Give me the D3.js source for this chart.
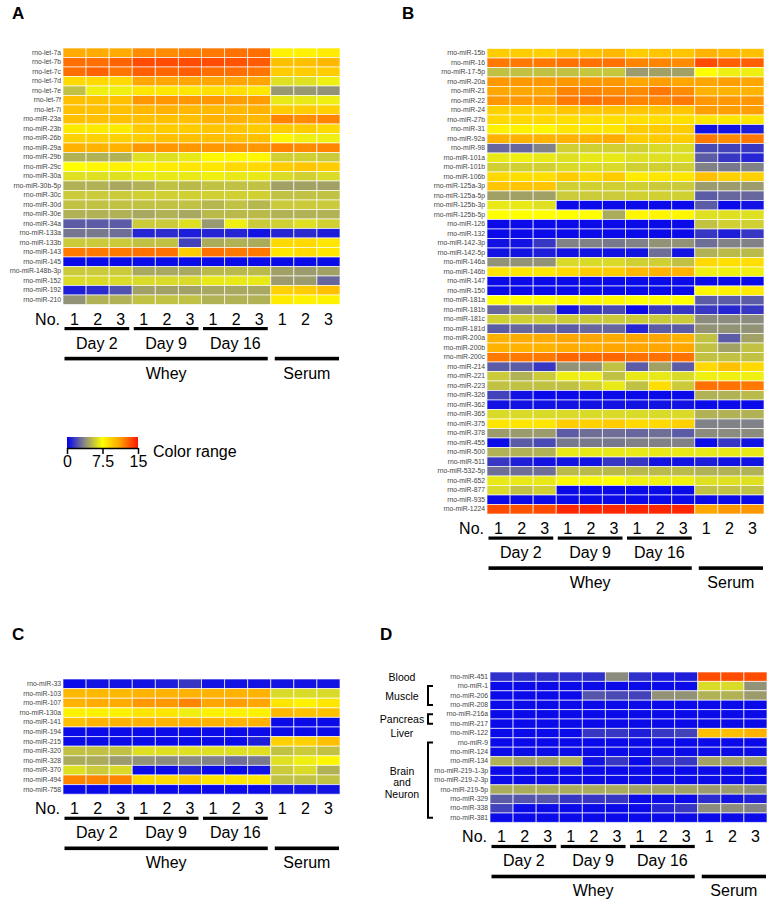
<!DOCTYPE html>
<html><head><meta charset="utf-8">
<script src="https://cdn.jsdelivr.net/npm/d3@7"></script>
<style>body{margin:0;background:#fff;} svg{display:block;font-family:Arial,"Liberation Sans",sans-serif;}</style>
</head><body><svg id="c" width="772" height="905"></svg>
<script>
// ---------- shared data ----------
const columns = ["W-D2-1","W-D2-2","W-D2-3","W-D9-1","W-D9-2","W-D9-3","W-D16-1","W-D16-2","W-D16-3","S-1","S-2","S-3"];
const sampleNumbers = ["1","2","3","1","2","3","1","2","3","1","2","3"];
const dayGroups = [{label:"Day 2", cols:[0,2]}, {label:"Day 9", cols:[3,5]}, {label:"Day 16", cols:[6,8]}];
const sourceGroups = [{label:"Whey", cols:[0,8]}, {label:"Serum", cols:[9,11]}];
const colorStops = [0, 3.75, 7.5, 11.25, 15];
const colorRange = ["#0000f2", "#8a8a80", "#ffff00", "#ffa000", "#ff1400"];
const legendTicks = [0, 7.5, 15];
const legendTickLabels = ["0", "7.5", "15"];

// ---------- panel A ----------
const rowsA = ["rno-let-7a","rno-let-7b","rno-let-7c","rno-let-7d","rno-let-7e","rno-let-7f","rno-let-7i","rno-miR-23a","rno-miR-23b","rno-miR-26b","rno-miR-29a","rno-miR-29b","rno-miR-29c","rno-miR-30a","rno-miR-30b-5p","rno-miR-30c","rno-miR-30d","rno-miR-30e","rno-miR-34a","rno-miR-133a","rno-miR-133b","rno-miR-143","rno-miR-145","rno-miR-148b-3p","rno-miR-152","rno-miR-192","rno-miR-210"];
const valuesA = [
 [10.8,10.8,10.8, 11.8,11.8,12.2, 12.3,12.5,12.6, 8.0,8.0,8.3],
 [12.6,12.6,12.9, 13.5,13.5,13.5, 13.5,13.3,13.1, 10.0,10.0,10.3],
 [12.6,12.9,12.4, 13.0,12.8,13.0, 12.6,12.6,12.4, 9.5,9.5,9.5],
 [9.0,9.0,9.0, 11.0,11.0,11.0, 11.0,11.0,11.0, 6.5,6.5,7.0],
 [5.5,7.0,7.0, 8.5,8.5,8.5, 8.8,8.8,8.5, 4.2,4.2,4.0],
 [10.0,10.0,10.0, 11.5,11.5,11.5, 11.5,11.3,11.3, 6.8,6.8,7.0],
 [10.0,10.0,10.0, 10.3,10.5,10.3, 10.3,10.3,10.5, 9.5,9.5,9.3],
 [10.0,10.0,10.0, 10.0,10.0,10.0, 10.5,10.5,10.3, 12.0,11.8,12.0],
 [8.3,8.3,8.3, 9.5,9.5,9.5, 9.8,9.8,9.5, 9.5,9.5,9.0],
 [9.3,9.3,9.3, 9.5,10.0,10.0, 10.0,10.0,10.0, 7.8,7.0,7.0],
 [10.5,10.5,10.5, 11.5,11.5,11.5, 11.5,11.5,11.5, 12.0,11.8,12.0],
 [5.0,5.0,5.0, 6.5,6.5,6.8, 7.8,7.8,7.8, 6.0,6.0,5.8],
 [7.5,7.8,8.0, 8.0,8.3,8.5, 8.5,9.0,9.0, 9.5,9.8,9.5],
 [6.5,6.5,6.5, 6.8,6.8,6.8, 7.0,6.8,6.8, 6.3,6.0,6.3],
 [5.0,5.0,4.7, 5.0,5.5,5.3, 5.5,5.5,5.5, 4.5,4.5,4.5],
 [5.8,5.8,5.8, 6.0,6.0,6.0, 6.0,6.0,6.0, 5.5,5.5,5.5],
 [5.5,5.5,5.5, 5.5,5.5,5.5, 5.2,5.5,5.2, 5.8,5.8,5.8],
 [5.0,5.0,5.0, 4.7,5.0,4.7, 5.3,5.3,5.3, 5.0,5.0,5.0],
 [2.5,2.5,2.5, 5.8,5.8,6.5, 4.2,7.0,5.8, 6.0,6.5,6.0],
 [3.2,3.3,3.0, 1.0,1.2,0.8, 1.0,1.0,0.5, 1.0,1.2,0.8],
 [5.8,5.8,5.8, 5.5,5.5,1.8, 4.8,5.0,4.8, 9.0,9.0,8.5],
 [12.3,12.3,12.3, 12.5,12.5,9.5, 12.5,12.3,12.3, 8.5,9.0,8.5],
 [0.3,0.3,0.3, 0.3,0.3,0.3, 0.3,0.3,0.3, 0.3,0.3,0.3],
 [5.8,5.8,5.8, 4.7,4.7,4.7, 5.3,5.3,5.3, 4.5,4.3,4.5],
 [6.3,6.3,6.3, 6.3,6.3,6.3, 6.8,6.8,6.8, 4.3,4.3,2.8],
 [0.8,1.2,2.2, 4.5,4.5,4.5, 4.7,4.7,4.7, 9.3,9.5,10.0],
 [4.0,5.0,5.0, 5.5,5.5,5.5, 5.0,5.0,5.0, 8.3,8.0,8.0]
];

// ---------- panel B ----------
const rowsB = ["rno-miR-15b","rno-miR-16","rno-miR-17-5p","rno-miR-20a","rno-miR-21","rno-miR-22","rno-miR-24","rno-miR-27b","rno-miR-31","rno-miR-92a","rno-miR-98","rno-miR-101a","rno-miR-101b","rno-miR-106b","rno-miR-125a-3p","rno-miR-125a-5p","rno-miR-125b-3p","rno-miR-125b-5p","rno-miR-126","rno-miR-132","rno-miR-142-3p","rno-miR-142-5p","rno-miR-146a","rno-miR-146b","rno-miR-147","rno-miR-150","rno-miR-181a","rno-miR-181b","rno-miR-181c","rno-miR-181d","rno-miR-200a","rno-miR-200b","rno-miR-200c","rno-miR-214","rno-miR-221","rno-miR-223","rno-miR-326","rno-miR-362","rno-miR-365","rno-miR-375","rno-miR-378","rno-miR-455","rno-miR-500","rno-miR-511","rno-miR-532-5p","rno-miR-652","rno-miR-877","rno-miR-935","rno-miR-1224"];
const valuesB = [
 [9.5,9.5,9.3, 10.0,10.0,10.3, 9.5,9.8,9.8, 10.5,10.3,10.0],
 [12.3,12.3,12.3, 12.5,12.5,12.5, 12.0,12.0,11.8, 13.5,13.0,13.0],
 [5.5,5.5,5.5, 5.5,5.7,5.7, 4.3,4.5,4.5, 7.5,7.0,7.0],
 [11.5,11.5,11.5, 11.5,11.5,11.5, 11.0,11.3,11.0, 11.0,11.3,11.0],
 [11.0,11.0,11.0, 12.0,12.0,11.8, 11.8,12.3,11.8, 10.5,10.5,10.5],
 [11.5,11.5,11.5, 12.3,12.5,12.3, 12.0,12.0,12.3, 11.5,11.5,11.5],
 [9.3,9.3,9.3, 9.8,9.8,9.8, 9.8,9.8,9.8, 11.3,11.3,11.3],
 [9.0,9.0,9.0, 8.8,8.8,8.8, 8.8,8.8,8.8, 8.5,8.5,8.5],
 [8.0,8.0,7.8, 8.5,8.5,8.5, 9.5,9.5,9.5, 0.5,0.5,0.8],
 [10.5,10.5,10.5, 10.5,10.5,10.8, 9.5,9.5,9.5, 12.3,11.8,12.3],
 [2.8,2.8,3.5, 6.0,6.0,6.0, 6.0,6.3,6.3, 2.0,1.8,1.5],
 [6.8,7.0,6.8, 6.5,6.8,6.8, 6.5,6.5,6.5, 2.5,1.5,1.0],
 [6.0,6.0,6.0, 6.3,6.3,6.3, 6.0,6.0,6.0, 3.5,3.3,3.5],
 [9.0,8.8,8.8, 9.5,9.0,9.5, 8.3,8.5,8.5, 10.0,9.3,9.3],
 [9.8,9.8,9.8, 6.0,6.0,6.0, 6.0,5.8,5.8, 4.3,4.3,4.3],
 [4.5,4.5,4.5, 5.8,5.8,5.8, 6.0,6.0,6.0, 2.5,2.8,2.8],
 [6.8,6.8,6.5, 0.3,0.3,0.3, 0.3,0.3,0.3, 2.5,0.3,0.5],
 [7.5,7.5,7.5, 7.5,7.5,4.8, 7.8,7.8,7.8, 6.5,6.5,6.5],
 [0.3,0.3,0.3, 0.3,0.3,0.3, 0.3,0.3,0.3, 5.5,6.0,6.0],
 [0.3,0.3,0.3, 0.3,0.3,0.3, 0.3,0.3,0.3, 1.5,0.8,1.5],
 [0.5,0.5,1.5, 3.5,3.5,3.3, 3.5,4.0,4.0, 3.0,3.5,3.5],
 [0.5,0.5,0.8, 0.5,0.5,0.5, 0.5,3.0,0.5, 5.0,5.3,5.3],
 [4.0,4.0,4.0, 6.3,6.3,6.3, 6.0,6.0,5.5, 9.0,8.8,8.8],
 [8.5,8.5,8.5, 9.0,9.5,9.5, 10.3,10.5,10.5, 7.0,7.0,7.0],
 [0.3,0.3,0.3, 0.3,0.3,0.3, 0.3,0.3,0.3, 0.3,0.3,0.3],
 [0.3,0.3,0.3, 0.3,0.3,0.3, 0.3,0.3,0.3, 7.8,8.0,8.3],
 [7.5,7.5,7.5, 7.8,7.8,7.8, 7.5,7.5,7.5, 2.5,2.5,2.5],
 [2.8,3.5,3.5, 0.5,1.5,2.0, 0.3,1.5,1.5, 1.5,1.0,1.5],
 [6.0,6.0,6.0, 5.8,5.8,5.8, 5.8,5.8,5.8, 3.8,3.8,3.8],
 [2.5,2.8,2.8, 2.5,2.8,2.8, 1.0,2.5,2.5, 4.0,4.0,4.0],
 [10.5,10.8,10.8, 11.0,11.0,10.8, 11.0,11.0,10.5, 5.5,2.5,4.5],
 [10.5,10.5,10.5, 10.8,10.8,11.0, 11.0,11.0,11.0, 5.5,4.5,5.5],
 [12.3,12.3,12.3, 12.8,12.8,12.8, 12.5,12.5,12.5, 5.5,5.5,5.5],
 [2.5,2.5,1.5, 4.0,4.0,5.5, 2.5,4.5,2.5, 9.0,10.0,9.0],
 [5.8,5.0,5.8, 7.0,7.0,5.5, 6.8,6.8,6.3, 7.0,7.0,7.0],
 [5.5,5.5,5.5, 5.5,6.0,6.8, 5.5,8.8,5.8, 12.5,12.5,12.3],
 [1.8,0.5,0.3, 0.3,0.3,0.3, 0.3,0.3,0.3, 5.0,5.0,5.3],
 [0.5,0.5,0.5, 0.5,0.5,0.5, 0.5,0.5,0.5, 0.3,0.3,0.3],
 [6.3,6.3,6.3, 6.3,6.3,6.3, 6.3,6.3,6.3, 5.0,5.0,5.0],
 [8.5,8.5,8.5, 9.5,9.3,9.5, 9.0,9.0,9.3, 3.5,3.5,3.5],
 [4.3,4.3,4.3, 2.5,3.0,3.0, 2.8,3.0,2.5, 3.8,3.8,3.8],
 [0.3,2.5,2.0, 3.3,3.3,3.3, 3.5,3.5,3.5, 0.3,1.5,0.5],
 [5.0,5.0,5.0, 6.8,6.8,6.8, 6.8,6.8,6.8, 6.8,6.8,6.8],
 [1.5,0.8,0.5, 0.5,0.5,1.5, 1.5,0.5,0.5, 0.8,0.5,0.5],
 [3.0,3.0,3.0, 5.3,5.3,5.3, 5.3,5.3,5.3, 5.0,5.0,5.0],
 [6.8,6.8,6.8, 7.3,7.3,7.5, 7.0,7.0,7.0, 6.5,6.5,6.5],
 [6.3,5.5,6.0, 0.3,0.3,0.3, 0.3,0.3,0.3, 5.5,5.5,5.5],
 [0.3,0.3,0.3, 0.3,0.3,0.3, 0.3,0.3,0.3, 0.3,0.3,0.3],
 [13.5,13.3,13.5, 14.5,14.5,14.5, 14.5,14.5,14.5, 11.0,11.5,11.5]
];

// ---------- panel C ----------
const rowsC = ["rno-miR-33","rno-miR-103","rno-miR-107","rno-miR-130a","rno-miR-141","rno-miR-194","rno-miR-215","rno-miR-320","rno-miR-328","rno-miR-370","rno-miR-494","rno-miR-758"];
const valuesC = [
 [0.3,0.5,0.5, 0.5,0.8,1.5, 0.5,0.5,0.5, 0.5,0.5,0.5],
 [10.3,10.3,10.3, 10.5,10.5,10.5, 10.5,10.5,10.5, 6.3,6.3,6.3],
 [10.5,10.8,10.8, 11.5,11.5,12.0, 11.0,11.3,11.0, 8.5,8.0,8.5],
 [8.0,8.0,8.0, 8.5,8.5,7.0, 8.0,8.0,8.0, 10.3,10.0,10.0],
 [10.0,10.5,10.5, 10.5,10.5,10.5, 10.5,10.5,10.5, 0.3,0.3,0.3],
 [0.3,0.3,0.3, 0.3,0.3,0.3, 0.3,0.3,0.3, 0.3,0.3,0.3],
 [0.3,0.3,0.3, 0.3,0.3,0.3, 0.3,0.3,0.8, 9.3,9.3,10.0],
 [5.5,5.5,5.5, 6.5,6.5,6.5, 6.5,6.5,6.5, 5.5,5.8,5.5],
 [4.8,4.8,4.3, 4.0,3.8,3.8, 3.5,3.0,3.3, 6.5,7.0,7.8],
 [6.5,5.8,6.3, 0.3,0.3,1.0, 0.3,0.3,0.5, 5.8,6.3,5.0],
 [12.0,12.0,12.0, 9.0,9.0,9.5, 8.5,8.5,8.5, 5.5,5.5,5.5],
 [0.3,0.3,0.3, 0.3,0.3,0.3, 0.3,0.3,0.3, 0.5,0.5,0.5]
];

// ---------- panel D ----------
const rowsD = ["rno-miR-451","rno-miR-1","rno-miR-206","rno-miR-208","rno-miR-216a","rno-miR-217","rno-miR-122","rno-miR-9","rno-miR-124","rno-miR-134","rno-miR-219-1-3p","rno-miR-219-2-3p","rno-miR-219-5p","rno-miR-329","rno-miR-338","rno-miR-381"];
const valuesD = [
 [1.3,1.3,1.3, 1.3,1.3,3.8, 1.3,0.8,0.8, 13.5,13.5,13.5],
 [0.3,0.3,0.3, 0.3,0.3,0.3, 0.3,0.3,0.3, 6.3,6.3,4.0],
 [0.3,0.3,0.3, 0.3,2.3,2.0, 1.8,4.0,4.0, 5.0,5.0,4.3],
 [0.3,0.3,0.3, 0.3,0.3,0.3, 0.3,0.3,0.3, 0.3,0.3,0.3],
 [0.3,0.3,0.3, 0.3,0.3,0.3, 0.3,0.3,0.3, 0.3,0.3,0.3],
 [0.3,0.3,0.3, 0.3,0.3,0.3, 0.3,0.3,0.3, 0.3,0.3,0.3],
 [0.3,0.3,0.3, 0.3,1.5,1.5, 0.8,1.5,1.8, 10.0,10.0,10.5],
 [0.3,0.3,0.3, 0.3,0.3,0.3, 0.3,0.3,0.3, 0.3,0.3,0.3],
 [0.3,0.3,0.3, 0.3,0.3,0.3, 0.3,0.3,0.3, 0.3,0.3,0.3],
 [5.0,4.5,4.5, 5.0,0.5,1.5, 0.3,1.5,1.5, 4.5,4.5,4.5],
 [0.3,0.3,0.3, 0.3,0.3,0.3, 0.3,0.3,0.3, 0.3,0.3,0.3],
 [0.3,0.3,0.3, 0.3,0.3,0.3, 0.3,0.3,0.3, 0.3,0.3,0.3],
 [4.8,4.8,4.8, 4.8,4.8,4.8, 4.5,4.5,4.5, 4.3,4.3,4.0],
 [2.5,2.3,2.3, 1.5,1.5,1.5, 0.3,0.3,0.3, 1.2,0.5,0.8],
 [1.8,0.3,0.3, 0.3,0.3,0.3, 0.3,1.0,1.5, 3.8,3.8,3.5],
 [0.3,0.3,0.3, 0.3,0.3,0.3, 0.3,0.3,0.3, 0.3,0.3,0.3]
];
const tissueLabels = [
 {lines:["Blood"], first:"rno-miR-451", last:"rno-miR-451", bracket:false},
 {lines:["Muscle"], first:"rno-miR-1", last:"rno-miR-208", bracket:true},
 {lines:["Pancreas"], first:"rno-miR-216a", last:"rno-miR-217", bracket:true},
 {lines:["Liver"], first:"rno-miR-122", last:"rno-miR-122", bracket:false},
 {lines:["Brain","and","Neuron"], first:"rno-miR-9", last:"rno-miR-381", bracket:true}
];

// ---------- drawing ----------
const svg = d3.select("#c");
const color = d3.scaleLinear().domain(colorStops).range(colorRange).clamp(true);
const FONT_BIG = 16;

function panel(letter, lx, ly, rows, values, x0, x1, y0, rowH){
  const g = svg.append("g");
  g.append("text").attr("x", lx).attr("y", ly).attr("font-size", 17).attr("font-weight", "bold").text(letter);
  const x = d3.scaleBand().domain(columns).range([x0, x1]);
  const y = d3.scaleBand().domain(rows).range([y0, y0 + rowH * rows.length]);
  const cells = [];
  rows.forEach((r, i) => values[i].forEach((v, j) => cells.push({r, c: columns[j], v})));
  g.append("g").selectAll("rect").data(cells).join("rect")
    .attr("x", d => x(d.c)).attr("y", d => y(d.r))
    .attr("width", x.bandwidth()).attr("height", y.bandwidth())
    .attr("fill", d => color(d.v))
    .attr("stroke", "rgba(255,255,255,0.65)").attr("stroke-width", 1);
  // row labels
  const yAxis = d3.axisLeft(y).tickSize(0).tickPadding(2);
  const ax = g.append("g").attr("transform", `translate(${x0},0)`).call(yAxis);
  ax.select(".domain").remove();
  ax.selectAll("text").attr("font-size", 6.8).attr("fill", "#444").attr("font-family", "Arial, 'Liberation Sans', sans-serif");
  const yb = y0 + rowH * rows.length;
  // No. row
  g.append("text").attr("x", x0 - 3).attr("y", yb + 20).attr("text-anchor", "end").attr("font-size", FONT_BIG).text("No.");
  g.append("g").selectAll("text").data(columns).join("text")
    .attr("x", d => x(d) + x.bandwidth() / 2).attr("y", yb + 20)
    .attr("text-anchor", "middle").attr("font-size", FONT_BIG)
    .text((d, i) => sampleNumbers[i]);
  // day groups
  dayGroups.forEach(dg => {
    const a = x(columns[dg.cols[0]]) + 1.5, b = x(columns[dg.cols[1]]) + x.bandwidth() - 3;
    g.append("rect").attr("x", a).attr("y", yb + 22.5).attr("width", b - a).attr("height", 3.2).attr("fill", "#000");
    g.append("text").attr("x", (a + b) / 2).attr("y", yb + 44).attr("text-anchor", "middle").attr("font-size", FONT_BIG).text(dg.label);
  });
  sourceGroups.forEach((sg, k) => {
    const a = x(columns[sg.cols[0]]) + (k === 0 ? 1.5 : 4), b = x(columns[sg.cols[1]]) + x.bandwidth() - (k === 0 ? 3 : 1);
    g.append("rect").attr("x", a).attr("y", yb + 52.3).attr("width", b - a).attr("height", 3.6).attr("fill", "#000");
    g.append("text").attr("x", (a + b) / 2).attr("y", yb + 74).attr("text-anchor", "middle").attr("font-size", FONT_BIG).text(sg.label);
  });
  return {x, y};
}

panel("A", 12, 19, rowsA, valuesA, 63, 340, 48, 9.5);
panel("B", 402, 19, rowsB, valuesB, 487, 764, 48.5, 9.5);
panel("C", 12, 640, rowsC, valuesC, 63, 340, 679, 9.6);
const pD = panel("D", 380, 640, rowsD, valuesD, 490, 767, 672, 9.4);

// tissue labels for D
tissueLabels.forEach(t => {
  const yc1 = pD.y(t.first) + pD.y.bandwidth() / 2;
  const yc2 = pD.y(t.last) + pD.y.bandwidth() / 2;
  const mid = (yc1 + yc2) / 2 + (t.lines.length > 1 ? 2 : 0);
  const lh = 11.5;
  t.lines.forEach((ln, i) => {
    svg.append("text").attr("x", 402).attr("y", mid + (i - (t.lines.length - 1) / 2) * lh + 4)
      .attr("text-anchor", "middle").attr("font-size", 10.5).text(ln);
  });
  if (t.bracket) {
    const bx = 428;
    svg.append("path").attr("d", `M${bx + 5},${yc1} H${bx} V${yc2} H${bx + 5}`)
      .attr("fill", "none").attr("stroke", "#000").attr("stroke-width", 2);
  }
});

// color legend
const defs = svg.append("defs");
const grad = defs.append("linearGradient").attr("id", "cg");
colorStops.forEach((s, i) => grad.append("stop").attr("offset", (s / 15 * 100) + "%").attr("stop-color", colorRange[i]));
const lx = d3.scaleLinear().domain([0, 15]).range([67, 138]);
svg.append("rect").attr("x", lx(0)).attr("y", 437).attr("width", lx(15) - lx(0)).attr("height", 11).attr("fill", "url(#cg)");
const lg = svg.append("g").attr("transform", "translate(0,448)")
  .call(d3.axisBottom(lx).tickValues(legendTicks).tickFormat((d, i) => legendTickLabels[i]).tickSize(6).tickSizeOuter(0).tickPadding(2));
lg.select(".domain").attr("stroke-width", 1.5);
lg.selectAll("line").attr("stroke-width", 1.5);
lg.selectAll("text").attr("font-size", FONT_BIG).attr("font-family", "Arial, 'Liberation Sans', sans-serif").attr("fill", "#000");
svg.append("text").attr("x", 153).attr("y", 457).attr("font-size", FONT_BIG).text("Color range");
</script></body></html>
